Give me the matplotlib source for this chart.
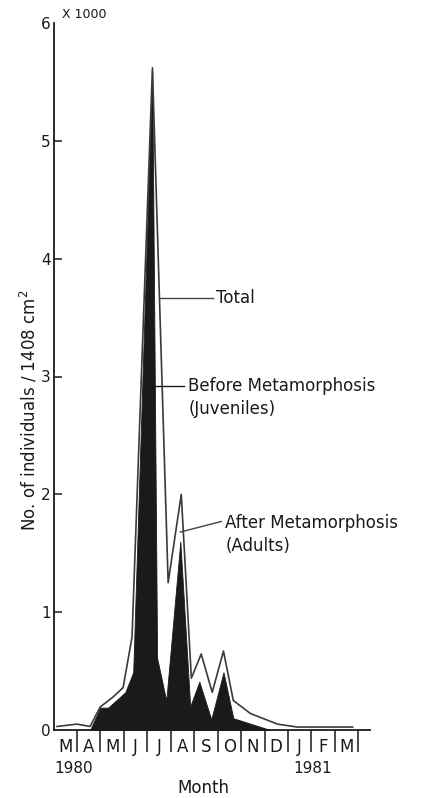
import matplotlib
matplotlib.use("Agg")
import matplotlib.pyplot as plt
import matplotlib.transforms as mtransforms

# months counted from the start of March 1980
month_letters = ["M", "A", "M", "J", "J", "A", "S", "O", "N", "D", "J", "F", "M"]

total_x = [0.15, 1.0, 1.56, 1.99, 2.54, 2.97, 3.35, 4.22, 4.89, 5.45, 5.88,
           6.3, 6.77, 7.25, 7.67, 8.4, 9.55, 10.4, 12.76]
total_y = [0.03, 0.05, 0.03, 0.195, 0.28, 0.36, 0.79, 5.62, 1.25, 2.0, 0.44,
           0.645, 0.32, 0.67, 0.25, 0.14, 0.05, 0.025, 0.025]

juv_x = [1.56, 1.99, 2.33, 3.06, 3.4, 4.21, 4.42, 4.81, 5.41, 5.83, 6.22,
         6.73, 7.25, 7.67, 9.25]
juv_y = [0.0, 0.19, 0.19, 0.32, 0.49, 5.6, 0.61, 0.25, 1.6, 0.2, 0.41,
         0.09, 0.49, 0.1, 0.0]

ink = "#1a1a1a"
fs = 12

fig = plt.figure(figsize=(4.28, 7.98), dpi=100)
ax = fig.add_axes([53.5 / 428, 1 - 730 / 798, (370 - 53.5) / 428, (730 - 23) / 798])

ax.fill_between(juv_x, juv_y, 0, color=ink, lw=0.6, edgecolor=ink)
ax.plot(total_x, total_y, color="#3a3a3a", lw=1.2)

ax.set_xlim(0, 13.5)
ax.set_ylim(0, 6)
for side in ["top", "right"]:
    ax.spines[side].set_visible(False)
for side in ["left", "bottom"]:
    ax.spines[side].set_color(ink)
    ax.spines[side].set_linewidth(1.3)

# y ticks point inward, no tick at either end
ax.set_yticks(range(0, 7))
ax.set_yticklabels([str(v) for v in range(0, 7)], fontsize=11, color=ink)
ax.tick_params(axis="y", direction="in", length=6, width=1.1, color=ink, pad=2)
for t in ax.yaxis.get_major_ticks():
    if t.get_loc() in (0, 6):
        t.tick1line.set_visible(False)

# month boxes: dividers as long outward ticks, letters centred between them
ax.set_xticks(range(1, 14))
ax.set_xticklabels([])
ax.tick_params(axis="x", which="major", direction="out", length=16, width=1.1, color=ink)
ax.set_xticks([i + 0.5 for i in range(13)], minor=True)
ax.set_xticklabels(month_letters, minor=True, fontsize=fs, color=ink)
ax.tick_params(axis="x", which="minor", length=0, pad=6)

trans = mtransforms.blended_transform_factory(ax.transData, ax.transAxes)
ax.text(0.05, -0.054, "1980", transform=trans, fontsize=11, color=ink, ha="left", va="center")
ax.text(10.25, -0.054, "1981", transform=trans, fontsize=11, color=ink, ha="left", va="center")
ax.set_xlabel("Month", fontsize=fs, color=ink)
ax.xaxis.set_label_coords(0.475, -0.07)

fig.text(29 / 428, 1 - 410 / 798, "No. of individuals / 1408 cm$^2$", rotation=90,
         fontsize=12, color=ink, ha="center", va="center")
fig.text(62 / 428, 1 - 15 / 798, "X 1000", fontsize=9, color=ink, ha="left", va="center")

# labels with leader lines
ax.plot([4.55, 6.82], [3.67, 3.67], color="#444444", lw=1.0, clip_on=False)
ax.text(6.95, 3.67, "Total", fontsize=fs, color=ink, ha="left", va="center")

ax.plot([4.34, 5.58], [2.92, 2.92], color=ink, lw=1.0, clip_on=False)
ax.text(5.75, 2.82, "Before Metamorphosis\n(Juveniles)", fontsize=fs, color=ink,
        ha="left", va="center", linespacing=1.38)

ax.plot([5.41, 7.16], [1.68, 1.77], color="#444444", lw=1.0, clip_on=False)
ax.text(7.33, 1.66, "After Metamorphosis\n(Adults)", fontsize=fs, color=ink,
        ha="left", va="center", linespacing=1.38)

fig.savefig("out.png", dpi=100)
